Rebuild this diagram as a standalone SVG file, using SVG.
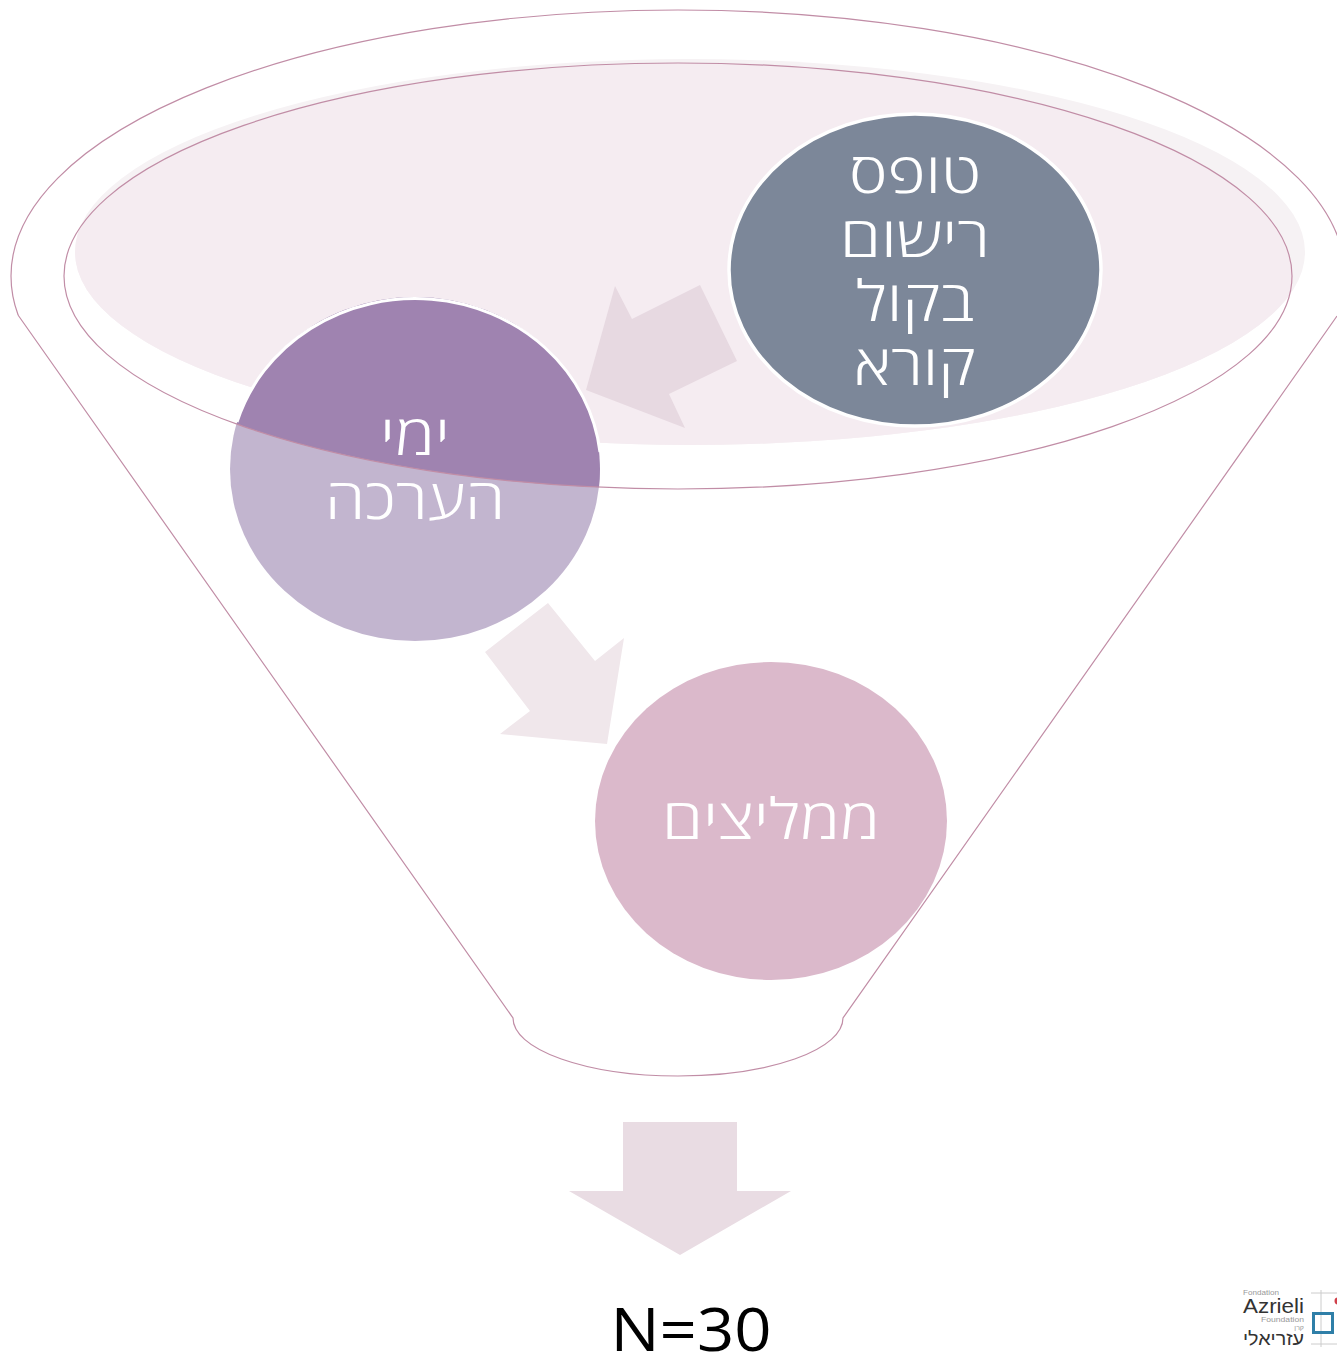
<svg xmlns="http://www.w3.org/2000/svg" width="1337" height="1356" viewBox="0 0 1337 1356">
<defs>
<clipPath id="inner"><ellipse cx="678" cy="276" rx="614" ry="213"/></clipPath>
<clipPath id="rim"><rect x="0" y="0" width="1337" height="315"/></clipPath>
</defs>
<style>
.o{fill:none;stroke:#c18da6;stroke-width:1.2}
.t{font-family:"Open Sans","Noto Sans","DejaVu Sans",sans-serif;font-size:56px;font-weight:300;fill:#fff;text-anchor:middle}
.l{font-family:"Liberation Sans",sans-serif;fill:#999}
</style>
<rect width="1337" height="1356" fill="#fff"/>
<g id="funnel-fill">
<ellipse cx="690" cy="252" rx="615" ry="193" fill="#f6f2f4"/>
<ellipse cx="690" cy="252" rx="615" ry="193" fill="#f5ecf1" clip-path="url(#inner)"/>
</g>
<g id="connectors">
<polygon points="737,361 669,394 685,428 586,390 615,286 632,319 700,285" fill="#e7d9e1"/>
<polygon points="548,603 595,661 624,638 607,744 500,734 530,711 485,652" fill="#f0e7eb"/>
<polygon points="623,1122 737,1122 737,1191 791,1191 680,1255 569,1191 623,1191" fill="#e9dce3"/>
</g>
<g id="node-top"><ellipse cx="915" cy="270" rx="186" ry="156" fill="#7c8799" stroke="#fff" stroke-width="3.5"/>
<text class="t" x="915" y="193" textLength="132" lengthAdjust="spacingAndGlyphs">טופס</text><text class="t" x="915" y="257" textLength="150" lengthAdjust="spacingAndGlyphs">רישום</text><text class="t" x="915" y="321" textLength="118" lengthAdjust="spacingAndGlyphs">בקול</text><text class="t" x="915" y="385" textLength="122" lengthAdjust="spacingAndGlyphs">קורא</text></g>
<g id="node-mid">
<ellipse cx="415" cy="469" rx="185" ry="172" fill="#c2b5cf"/>
<ellipse cx="415" cy="469" rx="185" ry="172" fill="#9f83b0" clip-path="url(#inner)"/>
<path d="M237 422A186 173 0 0 1 600 452" fill="none" stroke="#fff" stroke-width="3"/>
<text class="t" x="415" y="455" textLength="70" lengthAdjust="spacingAndGlyphs">ימי</text><text class="t" x="415" y="519" textLength="180" lengthAdjust="spacingAndGlyphs">הערכה</text></g>
<g id="node-low"><ellipse cx="771" cy="821" rx="176" ry="159" fill="#dbb9cb"/>
<text class="t" x="771" y="839" textLength="218" lengthAdjust="spacingAndGlyphs">ממליצים</text></g>
<g id="funnel">
<ellipse class="o" cx="678" cy="276" rx="667" ry="266" clip-path="url(#rim)"/>
<path class="o" d="M1337 316L843 1018A165 58 0 0 1 513 1018L18 315"/>
<ellipse class="o" cx="678" cy="276" rx="614" ry="213"/>
</g>
<text id="n" x="691" y="1351" font-family="Open Sans,Noto Sans,sans-serif" font-size="60" text-anchor="middle" fill="#000" textLength="161" lengthAdjust="spacingAndGlyphs">N=30</text>
<g id="logo">
<text class="l" x="1243" y="1295" font-size="7" textLength="36" lengthAdjust="spacingAndGlyphs">Fondation</text>
<text x="1243" y="1313" font-family="Liberation Sans,sans-serif" font-size="21" fill="#333" textLength="61" lengthAdjust="spacingAndGlyphs">Azrieli</text>
<text class="l" x="1304" y="1322" font-size="7" text-anchor="end" textLength="43" lengthAdjust="spacingAndGlyphs">Foundation</text>
<text class="l" x="1304" y="1330" font-size="7" text-anchor="end">קרן</text>
<text x="1304" y="1345" font-family="Liberation Sans,Noto Sans,sans-serif" font-size="19" fill="#333" text-anchor="end" textLength="61" lengthAdjust="spacingAndGlyphs">עזריאלי</text>
<path d="M1321 1290V1347M1311 1293H1337M1311 1344H1337" stroke="#ccc" fill="none"/>
<rect x="1313.500" y="1313.500" width="19" height="19" fill="none" stroke="#2f7fa8" stroke-width="3"/>
<circle cx="1338" cy="1301" r="3.500" fill="#d0404a"/>
</g>
</svg>
